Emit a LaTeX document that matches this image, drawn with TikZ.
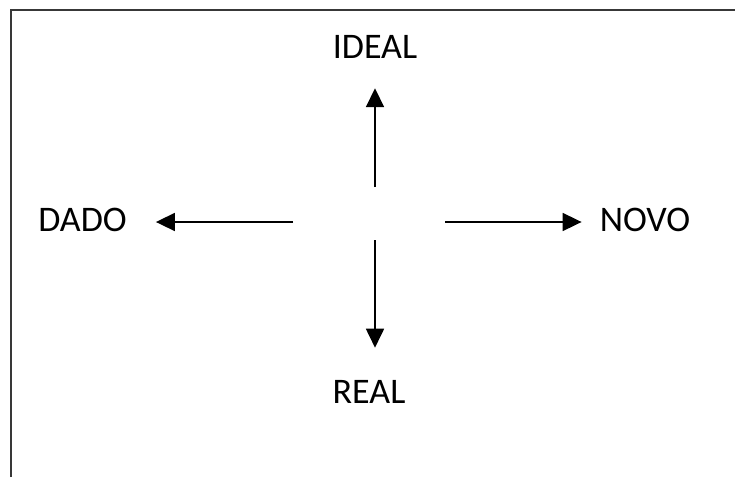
\documentclass[tikz,border=0pt]{standalone}
\usepackage{fontspec}
\setmainfont{Carlito}
\usetikzlibrary{arrows.meta}
\begin{document}
\begin{tikzpicture}[x=1pt,y=-1pt,
  frameline/.style={draw=black!78,line width=2.8pt},
  label/.style={anchor=base,inner sep=0pt,font=\fontsize{36}{40}\selectfont},
  arr/.style={line width=1.8pt,-{Triangle[length=19pt,width=18pt]}}]
  \useasboundingbox (0,0) rectangle (735,477);
  % open frame: only the left and top edges fall inside the page
  \draw[frameline] (11,477) -- (11,10) -- (735,10);
  % the four labels
  \node[label] (ideal) at (375,58) {IDEAL};
  \node[label] (real) at (369,403) {REAL};
  \node[label] (dado) at (82.5,231) {DADO};
  \node[label] (novo) at (645,231) {NOVO};
  % centre of the cross
  \coordinate (o) at (375,222);
  \draw[arr,shorten <=35pt,shorten >=30pt] (o) -- (o |- ideal.south);
  \draw[arr,shorten <=18pt,shorten >=32pt] (o) -- (o |- real.north);
  \draw[arr,shorten <=82pt,shorten >=29pt] (o) -- (o -| dado.east);
  \draw[arr,shorten <=70pt,shorten >=18pt] (o) -- (o -| novo.west);
\end{tikzpicture}
\end{document}
